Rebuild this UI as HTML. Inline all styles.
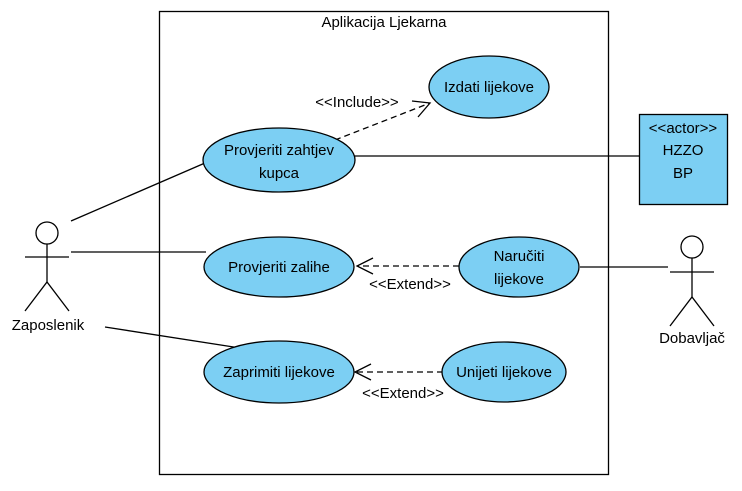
<!DOCTYPE html>
<html><head><meta charset="utf-8"><style>body{margin:0;background:#fff}</style></head><body>
<svg width="742" height="486" xmlns="http://www.w3.org/2000/svg" font-family="Liberation Sans, Arial, sans-serif" font-size="15">
<rect x="0" y="0" width="742" height="486" fill="#fff"/>
<rect x="159.5" y="11.5" width="449" height="463" fill="none" stroke="#000" stroke-width="1.3"/>
<text x="384" y="27" text-anchor="middle">Aplikacija Ljekarna</text>
<g stroke="#000" stroke-width="1.3" fill="none">
<line x1="71" y1="221" x2="205" y2="163"/>
<line x1="71" y1="252" x2="206" y2="252"/>
<line x1="105" y1="327" x2="240" y2="348"/>
<line x1="354" y1="156" x2="639" y2="156"/>
<line x1="580" y1="267" x2="668" y2="267"/>
<line x1="335" y1="140" x2="430" y2="103" stroke-dasharray="6,4"/>
<polyline points="412,101 430,103 418,117"/>
<line x1="459" y1="266" x2="358" y2="266" stroke-dasharray="6,4"/>
<polyline points="373,258 357,266 373,274"/>
<line x1="443" y1="372" x2="356" y2="372" stroke-dasharray="6,4"/>
<polyline points="371,364 355,372 371,380"/>
<circle cx="47" cy="233" r="11"/>
<line x1="47" y1="244" x2="47" y2="282"/>
<line x1="25" y1="257" x2="69" y2="257"/>
<polyline points="25,311 47,282 69,311"/>
<circle cx="692" cy="247" r="11"/>
<line x1="692" y1="258" x2="692" y2="297"/>
<line x1="670" y1="272" x2="714" y2="272"/>
<polyline points="670,326 692,297 714,326"/>
</g>
<g fill="#7ccff3" stroke="#000" stroke-width="1.3">
<ellipse cx="489" cy="87" rx="60" ry="31"/>
<ellipse cx="279" cy="160" rx="76" ry="32"/>
<ellipse cx="279" cy="267" rx="75" ry="30"/>
<ellipse cx="279" cy="372" rx="75" ry="31"/>
<ellipse cx="519" cy="267" rx="60" ry="30"/>
<ellipse cx="504" cy="372" rx="62" ry="30"/>
<rect x="639.5" y="114.5" width="88" height="90"/>
</g>
<g text-anchor="middle">
<text x="489" y="92">Izdati lijekove</text>
<text x="279" y="155">Provjeriti zahtjev</text>
<text x="279" y="178">kupca</text>
<text x="279" y="272">Provjeriti zalihe</text>
<text x="279" y="377">Zaprimiti lijekove</text>
<text x="519" y="261">Naručiti</text>
<text x="519" y="284">lijekove</text>
<text x="504" y="377">Unijeti lijekove</text>
<text x="683" y="133">&lt;&lt;actor&gt;&gt;</text>
<text x="683" y="155">HZZO</text>
<text x="683" y="178">BP</text>
<text x="357" y="107">&lt;&lt;Include&gt;&gt;</text>
<text x="410" y="289">&lt;&lt;Extend&gt;&gt;</text>
<text x="403" y="398">&lt;&lt;Extend&gt;&gt;</text>
<text x="48" y="330">Zaposlenik</text>
<text x="692" y="343">Dobavljač</text>
</g>
</svg>
</body></html>
